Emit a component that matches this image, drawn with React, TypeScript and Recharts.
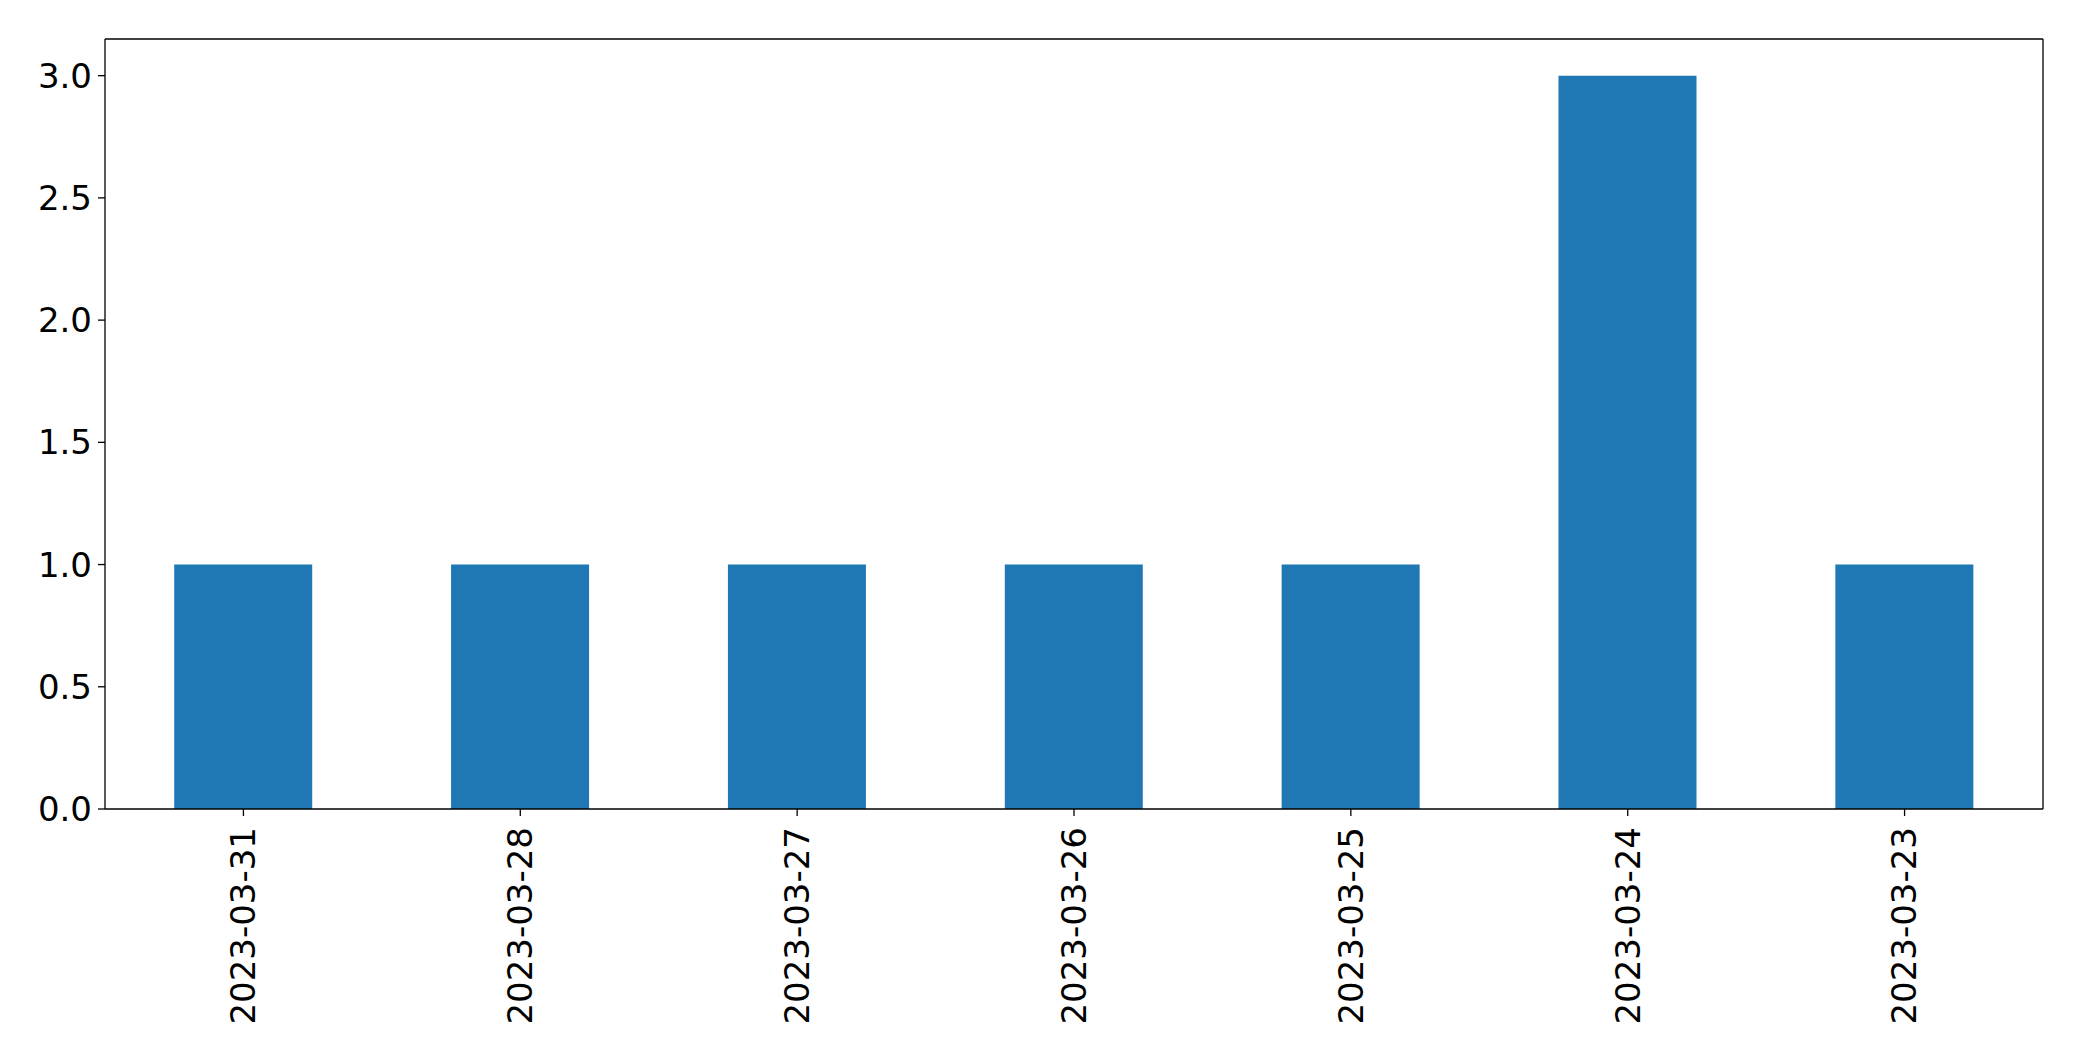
import { BarChart, Bar, XAxis, YAxis } from 'recharts'

const dates = ['2023-03-31', '2023-03-28', '2023-03-27', '2023-03-26', '2023-03-25', '2023-03-24', '2023-03-23']
const counts = [1, 1, 1, 1, 1, 3, 1]
const yTicks = [0, 0.5, 1.0, 1.5, 2.0, 2.5, 3.0]

const data = dates.map((d, i) => ({ date: d, count: counts[i] }))

const FONT = 'DejaVu Sans'
const FONT_SIZE = 34

function DateTick(props: any) {
  const { x, y, payload } = props
  return (
    <text
      x={x}
      y={y}
      dy="0.35em"
      transform={`rotate(-90, ${x}, ${y})`}
      textAnchor="end"
      fill="#000"
      fontFamily={FONT}
      fontSize={FONT_SIZE}
    >
      {payload.value}
    </text>
  )
}

export default function App() {
  return (
    <div style={{ width: 2066, height: 1045 }}>
      <BarChart
        width={2066}
        height={1045}
        data={data}
        margin={{ top: 30, right: 30, left: 0, bottom: 0 }}
        barCategoryGap="25%"
      >
        <XAxis
          dataKey="date"
          height={244}
          interval={0}
          tick={<DateTick />}
          tickSize={7}
          tickMargin={11}
          axisLine={{ stroke: '#000', strokeWidth: 1.3 }}
          tickLine={{ stroke: '#000', strokeWidth: 1.3 }}
        />
        <XAxis
          xAxisId="top"
          orientation="top"
          dataKey="date"
          height={1}
          tick={false}
          tickLine={false}
          axisLine={{ stroke: '#000', strokeWidth: 1.3 }}
        />
        <YAxis
          width={97}
          domain={[0, 3.15]}
          ticks={yTicks}
          allowDataOverflow
          interval={0}
          tickFormatter={(v: number) => v.toFixed(1)}
          tick={{ fill: '#000', fontFamily: FONT, fontSize: FONT_SIZE }}
          tickSize={7}
          tickMargin={6}
          axisLine={{ stroke: '#000', strokeWidth: 1.3 }}
          tickLine={{ stroke: '#000', strokeWidth: 1.3 }}
        />
        <YAxis
          yAxisId="right"
          orientation="right"
          width={1}
          domain={[0, 3.15]}
          tick={false}
          tickLine={false}
          axisLine={{ stroke: '#000', strokeWidth: 1.3 }}
        />
        <Bar dataKey="count" fill="#1f77b4" isAnimationActive={false} />
      </BarChart>
    </div>
  )
}
